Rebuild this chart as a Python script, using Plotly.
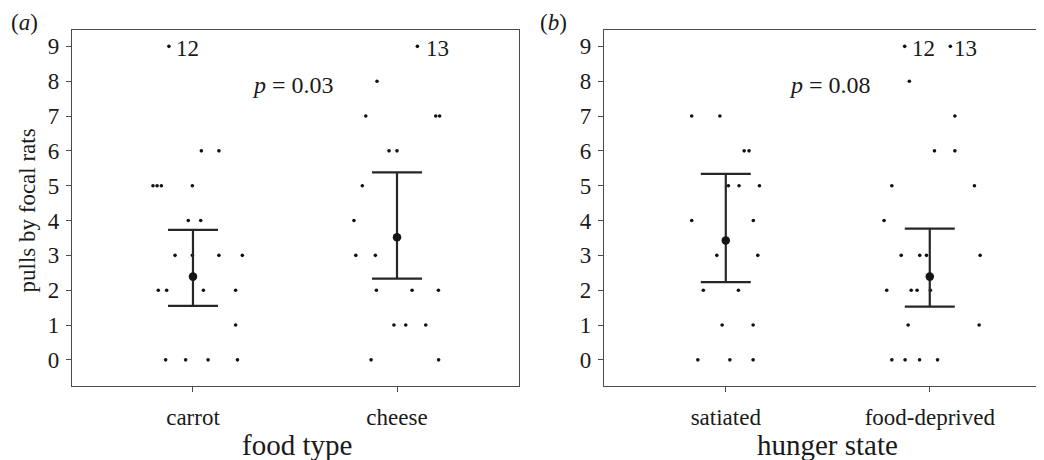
import plotly.graph_objects as go

# ---------------- data ----------------
food_categories = ["carrot", "cheese"]
hunger_categories = ["satiated", "food-deprived"]
y_ticks = [0, 1, 2, 3, 4, 5, 6, 7, 8, 9]

# raw points (values capped at 9 on the plot; true values labelled)
carrot_y = [9, 6, 6, 5, 5, 5, 5, 4, 4, 3, 3, 3, 3, 2, 2, 2, 2, 1, 0, 0, 0, 0]
carrot_jit = [-0.118, 0.041, 0.127, -0.196, -0.176, -0.155, -0.003, -0.023, 0.038,
              -0.088, -0.003, 0.127, 0.242, -0.170, -0.129, 0.051, 0.209, 0.209,
              -0.134, -0.036, 0.074, 0.218]
cheese_y = [9, 8, 7, 7, 7, 6, 6, 5, 4, 3, 3, 2, 2, 2, 1, 1, 1, 0, 0]
cheese_jit = [0.100, -0.098, -0.153, 0.190, 0.209, -0.039, 0.0, -0.170, -0.211,
              -0.202, -0.106, -0.101, 0.074, 0.203, -0.015, 0.043, 0.141, -0.127, 0.204]
satiated_y = [7, 7, 6, 6, 5, 5, 5, 4, 4, 3, 3, 2, 2, 1, 1, 0, 0, 0]
satiated_jit = [-0.167, -0.029, 0.090, 0.114, 0.013, 0.065, 0.165, -0.167, 0.135,
                -0.044, 0.157, -0.110, 0.062, -0.018, 0.134, -0.137, 0.020, 0.134]
deprived_y = [9, 9, 8, 7, 6, 6, 5, 5, 4, 3, 3, 3, 3, 2, 2, 2, 2, 1, 1, 0, 0, 0, 0]
deprived_jit = [-0.123, 0.101, -0.100, 0.123, 0.023, 0.123, -0.186, 0.219, -0.224,
                -0.140, -0.049, -0.016, 0.247, -0.211, -0.091, -0.062, 0.003,
                -0.106, 0.242, -0.186, -0.121, -0.050, 0.038]

# estimates with intervals
food_est = [2.39, 3.52]
food_hi = [3.73, 5.38]
food_lo = [1.55, 2.33]
hunger_est = [3.43, 2.39]
hunger_hi = [5.34, 3.77]
hunger_lo = [2.23, 1.53]

# capped outliers: (panel, category index, jitter, label)
outlier_panel = ["a", "a", "b", "b"]
outlier_cat = [0, 1, 1, 1]
outlier_jit = [-0.118, 0.100, -0.123, 0.101]
outlier_label = ["12", "13", "12", "13"]
outlier_shift = [5, 7, 5, 2]

p_text = ["<i>p</i> = 0.03", "<i>p</i> = 0.08"]
p_x = [0.49, 0.51]
p_y = [7.88, 7.88]

# ---------------- figure ----------------
# the page body has an 8px margin, so the figure is placed 8px in from the top-left
OFF = 8
W, H = 1044 - OFF, 460 - OFF
FONT = "Liberation Serif"
INK = "#1a1a1a"
LINE = "#4a4a4a"

fig = go.Figure()

def add_points(cat_idx, ys, jits, xa, ya):
    fig.add_trace(go.Scatter(
        x=[cat_idx + j for j in jits], y=ys, mode="markers",
        marker=dict(size=3.6, color="#111111"),
        xaxis=xa, yaxis=ya, showlegend=False, hoverinfo="skip"))

add_points(0, carrot_y, carrot_jit, "x", "y")
add_points(1, cheese_y, cheese_jit, "x", "y")
add_points(0, satiated_y, satiated_jit, "x2", "y2")
add_points(1, deprived_y, deprived_jit, "x2", "y2")

def add_est(est, hi, lo, xa, ya):
    fig.add_trace(go.Scatter(
        x=[0, 1], y=est, mode="markers",
        marker=dict(size=8.5, color="#151515"),
        error_y=dict(type="data", symmetric=False,
                     array=[h - e for h, e in zip(hi, est)],
                     arrayminus=[e - l for e, l in zip(est, lo)],
                     width=25, thickness=2.2, color="#262626"),
        xaxis=xa, yaxis=ya, showlegend=False, hoverinfo="skip"))

add_est(food_est, food_hi, food_lo, "x", "y")
add_est(hunger_est, hunger_hi, hunger_lo, "x2", "y2")

annotations = []
for pan, ci, jt, lab, sh in zip(outlier_panel, outlier_cat, outlier_jit, outlier_label, outlier_shift):
    annotations.append(dict(
        x=ci + jt, y=9, xref="x" if pan == "a" else "x2", yref="y" if pan == "a" else "y2",
        text=lab, showarrow=False, xanchor="left", yanchor="middle", xshift=sh, yshift=-2,
        font=dict(family=FONT, size=23, color=INK)))

for i, (t, px_, py_) in enumerate(zip(p_text, p_x, p_y)):
    annotations.append(dict(
        x=px_, y=py_, xref="x" if i == 0 else "x2", yref="y" if i == 0 else "y2",
        text=t, showarrow=False, xanchor="center", yanchor="middle",
        font=dict(family=FONT, size=24, color=INK)))

def paper(px, py):
    return (px - OFF) / W, 1 - (py - OFF) / H

ax, ay = paper(26.5, 211)
annotations.append(dict(x=ax, y=ay, xref="paper", yref="paper", text="pulls by focal rats",
                        textangle=-90, showarrow=False, xanchor="center", yanchor="middle",
                        font=dict(family=FONT, size=23, color=INK)))
for txt, cx in [("food type", 296.5), ("hunger state", 827.5)]:
    tx, ty = paper(cx, 444.5)
    annotations.append(dict(x=tx, y=ty, xref="paper", yref="paper", text=txt,
                            showarrow=False, xanchor="center", yanchor="middle",
                            font=dict(family=FONT, size=29, color=INK)))
for txt, cx in [("(<i>a</i>)", 24), ("(<i>b</i>)", 553)]:
    tx, ty = paper(cx, 23)
    annotations.append(dict(x=tx, y=ty, xref="paper", yref="paper", text=txt,
                            showarrow=False, xanchor="center", yanchor="middle",
                            font=dict(family=FONT, size=23, color=INK)))

x_dom_a = [(72 - OFF) / W, (519 - OFF) / W]
x_dom_b = [(604 - OFF) / W, 1.0]
y_dom = [1 - (386 - OFF) / H, 1 - (30 - OFF) / H]
y_range = [-0.75, 9.47]

common_x = dict(showgrid=False, zeroline=False, showline=True, linecolor=LINE, linewidth=1.3,
                ticks="outside", ticklen=5, tickwidth=1.3, tickcolor=LINE, automargin=False,
                ticklabelstandoff=5,
                tickfont=dict(family=FONT, size=23, color=INK), tickvals=[0, 1])
common_y = dict(showgrid=False, zeroline=False, showline=True, linecolor=LINE, linewidth=1.3,
                ticks="outside", ticklen=5, tickwidth=1.3, tickcolor=LINE, automargin=False,
                ticklabelstandoff=2,
                tickfont=dict(family=FONT, size=23, color=INK),
                tickvals=y_ticks, ticktext=[str(v) for v in y_ticks], range=y_range)

fig.update_layout(
    width=W, height=H, margin=dict(l=0, r=0, t=0, b=0),
    paper_bgcolor="white", plot_bgcolor="white",
    xaxis=dict(domain=x_dom_a, range=[-0.593, 1.598], anchor="y", mirror=True,
               ticktext=food_categories, **common_x),
    yaxis=dict(domain=y_dom, anchor="x", mirror=True, **common_y),
    xaxis2=dict(domain=x_dom_b, range=[-0.597, 1.560], anchor="y2", mirror=True,
                ticktext=hunger_categories, **common_x),
    yaxis2=dict(domain=y_dom, anchor="x2", mirror=False, **common_y),
    annotations=annotations,
)

fig.write_html("out.html")
